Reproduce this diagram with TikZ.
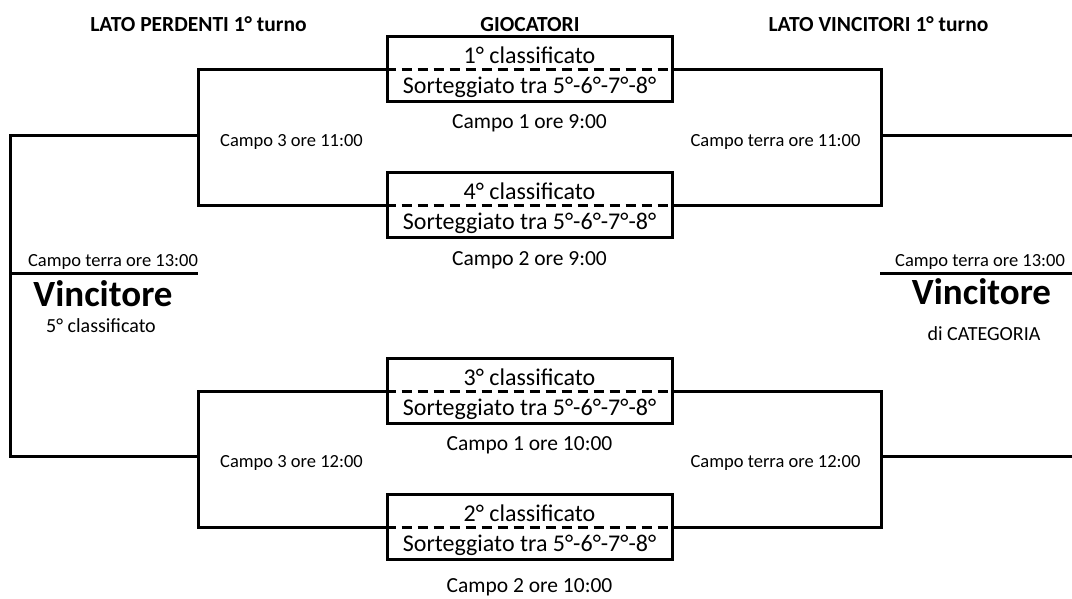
\documentclass[tikz,border=0pt]{standalone}
\usepackage{fontspec}
\setmainfont{Carlito}

\tikzset{
  box/.style={draw, line width=3pt, minimum width=285pt, minimum height=65pt, inner sep=0pt},
  split/.style={line width=3pt, dash pattern=on 10pt off 6pt},
  wire/.style={line width=3pt},
  head/.style={font=\fontsize{21.5}{25}\selectfont\bfseries, anchor=base, inner sep=0pt},
  ptext/.style={font=\fontsize{24}{28}\selectfont, anchor=base, inner sep=0pt},
  slot/.style={font=\fontsize{21.5}{25}\selectfont, anchor=base, inner sep=0pt},
  court/.style={font=\fontsize{18.5}{22}\selectfont, anchor=base, inner sep=0pt},
  champ/.style={font=\fontsize{37}{40}\selectfont\bfseries, anchor=base, inner sep=0pt},
  subtitle/.style={font=\fontsize{20}{24}\selectfont, anchor=base, inner sep=0pt}
}

\begin{document}
\begin{tikzpicture}[x=1pt,y=-1pt]
        \useasboundingbox (0,0) rectangle (1072,598);

        % Column headings
        \node[head] (hLose) at (198.5,31) {LATO PERDENTI 1° turno};
        \node[head] (hPlay) at (530,31) {GIOCATORI};
        \node[head] (hWin) at (878.5,31) {LATO VINCITORI 1° turno};

        % Player boxes
        \node[box] (g1) at (529.5,69) {};
        \node[ptext] (g1a) at (529.5,63) {1° classificato};
        \node[ptext] (g1b) at (529.5,93) {Sorteggiato tra 5°-6°-7°-8°};
        \draw[split] (g1.west) -- (g1.east);
        \node[slot] (c1) at (529.5,128) {Campo 1 ore 9:00};

        \node[box] (g4) at (529.5,205) {};
        \node[ptext] (g4a) at (529.5,199) {4° classificato};
        \node[ptext] (g4b) at (529.5,229) {Sorteggiato tra 5°-6°-7°-8°};
        \draw[split] (g4.west) -- (g4.east);
        \node[slot] (c2) at (529.5,265) {Campo 2 ore 9:00};

        \node[box] (g3) at (529.5,391) {};
        \node[ptext] (g3a) at (529.5,385) {3° classificato};
        \node[ptext] (g3b) at (529.5,415) {Sorteggiato tra 5°-6°-7°-8°};
        \draw[split] (g3.west) -- (g3.east);
        \node[slot] (c3) at (529.5,450) {Campo 1 ore 10:00};

        \node[box] (g2) at (529.5,527) {};
        \node[ptext] (g2a) at (529.5,521) {2° classificato};
        \node[ptext] (g2b) at (529.5,551) {Sorteggiato tra 5°-6°-7°-8°};
        \draw[split] (g2.west) -- (g2.east);
        \node[slot] (c4) at (529.5,592) {Campo 2 ore 10:00};

        % Joints of the brackets
        \coordinate (loseTop) at (198,135);
        \coordinate (loseBot) at (198,456);
        \coordinate (winTop) at (881,135);
        \coordinate (winBot) at (881,456);
        \coordinate (fin5) at (10,273);
        \coordinate (fin5end) at (198,273);
        \coordinate (fin1) at (880,273);
        \coordinate (fin1end) at (1072,273);
        \coordinate (edgeTop) at (1072,135);
        \coordinate (edgeBot) at (1072,456);

        % Losers side
        \draw[wire] (g1.west) -| (loseTop) |- (g4.west);
        \draw[wire] (g3.west) -| (loseBot) |- (g2.west);
        \draw[wire] (loseTop) -| (fin5) |- (loseBot);
        \draw[wire] (fin5) -- (fin5end);
        \node[court] (m1) at (291.5,146) {Campo 3 ore 11:00};
        \node[court] (m2) at (291.5,467) {Campo 3 ore 12:00};

        % Winners side
        \draw[wire] (g1.east) -| (winTop) |- (g4.east);
        \draw[wire] (g3.east) -| (winBot) |- (g2.east);
        \draw[wire] (winTop) -- (edgeTop);
        \draw[wire] (winBot) -- (edgeBot);
        \draw[wire] (fin1) -- (fin1end);
        \node[court] (m3) at (775.5,146) {Campo terra ore 11:00};
        \node[court] (m4) at (775.5,467) {Campo terra ore 12:00};

        % Finals
        \node[court] (f5) at (113,266) {Campo terra ore 13:00};
        \node[champ] (v5) at (103,306) {Vincitore};
        \node[subtitle] (v5s) at (101,332) {5° classificato};
        \node[court] (f1) at (980,266) {Campo terra ore 13:00};
        \node[champ] (v1) at (981.5,304) {Vincitore};
        \node[subtitle] (v1s) at (984,340) {di CATEGORIA};

\end{tikzpicture}
\end{document}
